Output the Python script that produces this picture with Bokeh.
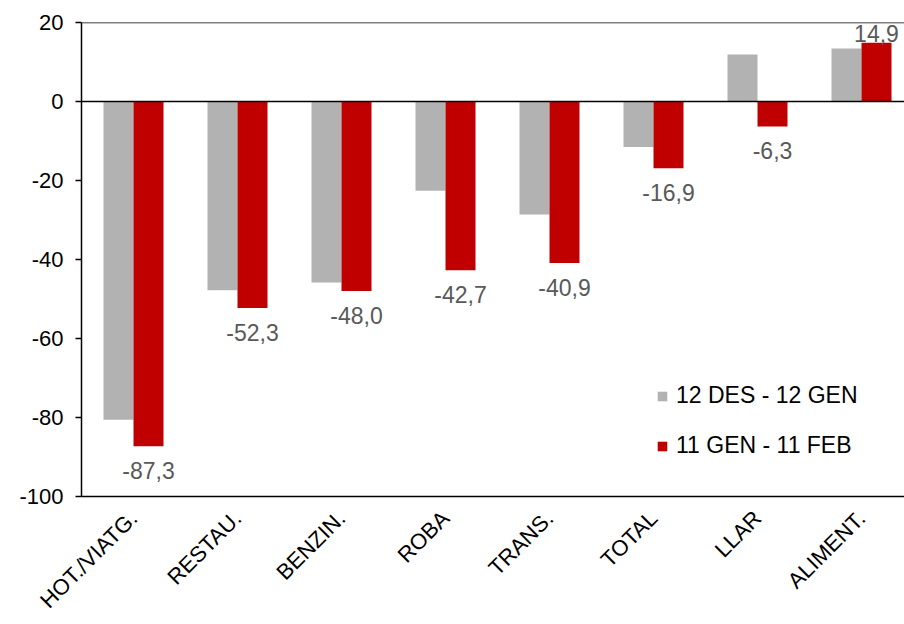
from bokeh.plotting import figure
from bokeh.models import (ColumnDataSource, Range1d, FixedTicker, Span, Legend,
                          LegendItem)
from bokeh.transform import dodge
from bokeh.core.properties import value
from bokeh.embed import file_html
from bokeh.resources import INLINE
import math

categories = ["HOT./VIATG.", "RESTAU.", "BENZIN.", "ROBA", "TRANS.", "TOTAL", "LLAR", "ALIMENT."]
series_gray_name = "12 DES - 12 GEN"
series_red_name = "11 GEN - 11 FEB"
gray_values = [-80.6, -47.8, -45.8, -22.6, -28.6, -11.5, 11.9, 13.4]
red_values = [-87.3, -52.3, -48.0, -42.7, -40.9, -16.9, -6.3, 14.9]
y_ticks = [20, 0, -20, -40, -60, -80, -100]

FONT = "Liberation Sans"
GRAY = "#B2B2B2"
RED = "#C00000"

xs = list(range(len(categories)))
src = ColumnDataSource(dict(
    x=xs,
    gray=gray_values,
    red=red_values,
    lbl=[("%.1f" % v).replace(".", ",") for v in red_values],
    base=["top" if v < 0 else "bottom" for v in red_values],
    yoff=[16 if v < 0 else -1 for v in red_values],
))

p = figure(width=904, height=624, output_backend="svg", toolbar_location=None,
           x_range=Range1d(-0.5, -0.5 + 823 / 104), y_range=Range1d(-100, 20),
           min_border_left=81, min_border_right=0, min_border_top=22,
           min_border_bottom=126)
p.outline_line_color = None
p.xgrid.visible = False
p.ygrid.visible = False
p.background_fill_color = "white"
p.border_fill_color = "white"

bw = 30 / 104
rg = p.vbar(x=dodge("x", -bw / 2, range=p.x_range), top="gray", bottom=0, width=bw,
            source=src, fill_color=GRAY, line_color=None)
rr = p.vbar(x=dodge("x", bw / 2, range=p.x_range), top="red", bottom=0, width=bw,
            source=src, fill_color=RED, line_color=None)

p.text(x=dodge("x", bw / 2, range=p.x_range), y="red", text="lbl", source=src,
       text_baseline="base", text_align="center", y_offset="yoff",
       text_font=value(FONT), text_font_size="23px", text_color="#595959")

p.add_layout(Span(location=0, dimension="width", line_color="black", line_width=1.5))
p.add_layout(Span(location=20, dimension="width", line_color="black", line_width=1.5))

# y axis
ya = p.yaxis[0]
ya.ticker = FixedTicker(ticks=y_ticks)
ya.major_label_overrides = {t: str(t) for t in y_ticks}
ya.axis_line_color = "black"
ya.axis_line_width = 1.5
ya.major_tick_out = 6
ya.major_tick_in = 0
ya.major_tick_line_width = 1.5
ya.minor_tick_line_color = None
ya.major_label_text_font = FONT
ya.major_label_text_font_size = "22px"
ya.major_label_text_color = "black"
ya.major_label_standoff = 12

# x axis
xa = p.xaxis[0]
xa.ticker = FixedTicker(ticks=xs)
xa.major_label_overrides = {i: c for i, c in zip(xs, categories)}
xa.major_label_orientation = math.pi / 4
xa.axis_line_color = "black"
xa.axis_line_width = 1.5
xa.major_tick_line_color = None
xa.minor_tick_line_color = None
xa.major_label_text_font = FONT
xa.major_label_text_font_size = "22px"
xa.major_label_text_color = "black"
xa.major_label_standoff = 12

legend = Legend(items=[LegendItem(label=series_gray_name, renderers=[rg]),
                       LegendItem(label=series_red_name, renderers=[rr])],
                location=(575, 37), orientation="vertical",
                glyph_width=12, glyph_height=12, label_height=23,
                label_standoff=8, spacing=23, padding=0, margin=0,
                border_line_color=None, background_fill_alpha=0,
                label_text_font=FONT, label_text_font_size="23px",
                label_text_color="black")
p.add_layout(legend)

open("out.html", "w").write(file_html(p, INLINE))
